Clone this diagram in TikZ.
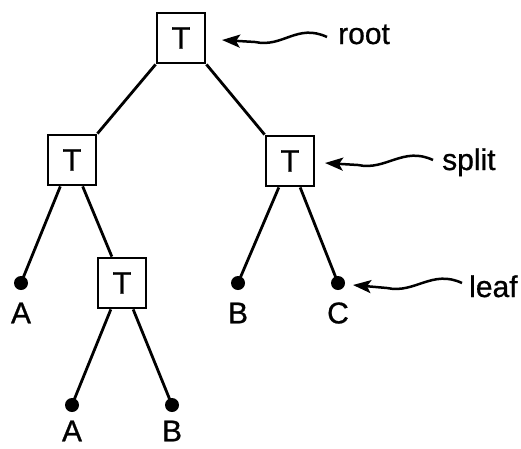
\documentclass[tikz,border=0pt]{standalone}
\usepackage{fontspec}
\setmainfont{Liberation Sans}
\newfontfamily\lblfont[FakeBold=0.8]{Liberation Sans}
\usetikzlibrary{arrows.meta,calc}
\begin{document}
\begin{tikzpicture}[x=1pt,y=-1pt,
 tbox/.style={draw,line width=2.8pt,minimum width=48pt,minimum height=50pt,inner sep=0pt,font=\lblfont\fontsize{31}{31}\selectfont},
 leafdot/.style={circle,fill,inner sep=0pt,minimum size=14pt},
 lbl/.style={font=\lblfont\fontsize{30}{30}\selectfont,inner sep=0pt},
 edge/.style={line width=2.8pt},
 pointer/.style={line width=2.5pt,-{Stealth[length=18pt,width=13pt,inset=4pt]}}]
\useasboundingbox (0,0) rectangle (521,448);
% boxes
\node[tbox] (root) at (181,38) {T};
\node[tbox] (lt) at (72,160) {T};
\node[tbox] (rt) at (290,161) {T};
\node[tbox] (lowt) at (122,283) {T};
% leaves
\node[leafdot] (la) at (21,283) {};
\node[leafdot] (rb) at (238,283) {};
\node[leafdot] (rc) at (338,283) {};
\node[leafdot] (lla) at (72,405) {};
\node[leafdot] (llb) at (172,405) {};
% leaf labels
\node[lbl] (lA) at (21,313) {A};
\node[lbl] (lB) at (238,313) {B};
\node[lbl] (lC) at (338,313) {C};
\node[lbl] (llA) at (72,431) {A};
\node[lbl] (llB) at (172,431) {B};
% edges
\draw[edge] (root.south west) -- (lt.north east);
\draw[edge] (root.south east) -- (rt.north west);
\draw[edge] ($(lt.south west)!0.27!(lt.south east)$) -- (la.center);
\draw[edge] ($(lt.south west)!0.71!(lt.south east)$) -- ($(lowt.north west)!0.3!(lowt.north east)$);
\draw[edge] ($(lowt.south west)!0.28!(lowt.south east)$) -- (lla.center);
\draw[edge] ($(lowt.south west)!0.72!(lowt.south east)$) -- (llb.center);
\draw[edge] ($(rt.south west)!0.28!(rt.south east)$) -- (rb.center);
\draw[edge] ($(rt.south west)!0.7!(rt.south east)$) -- (rc.center);
% annotation labels
\node[lbl,anchor=base west] (troot) at (338,44) {root};
\node[lbl,anchor=base west] (tsplit) at (442,170) {split};
\node[lbl,anchor=base west] (tleaf) at (469,297) {leaf};
% annotation arrows
\coordinate (aroot) at (327,37);
\coordinate (proot) at (222,40);
\coordinate (asplit) at (433,160);
\coordinate (psplit) at (325,163);
\coordinate (aleaf) at (462,283);
\coordinate (pleaf) at (353,285);
\draw[pointer] (aroot) .. controls +(-30,-14) and +(28,6) .. ($(aroot)+(-72,5)$) -- (proot);
\draw[pointer] (asplit) .. controls +(-30,-14) and +(28,6) .. ($(asplit)+(-75,5)$) -- (psplit);
\draw[pointer] (aleaf) .. controls +(-30,-14) and +(28,6) .. ($(aleaf)+(-75,5)$) -- (pleaf);
\end{tikzpicture}
\end{document}
